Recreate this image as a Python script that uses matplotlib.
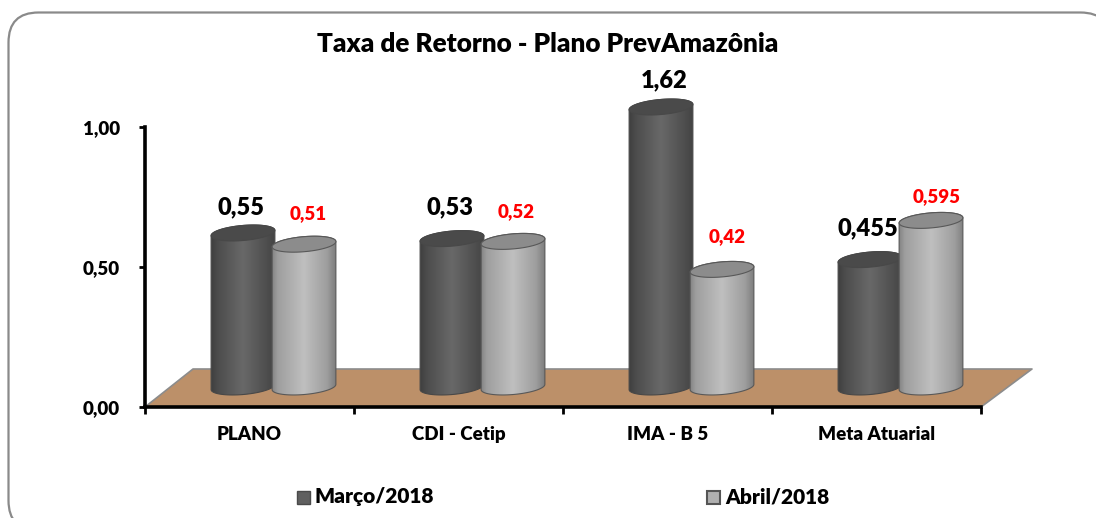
#!/usr/bin/env python3
# -*- coding: utf-8 -*-

import numpy as np
import matplotlib
matplotlib.use("Agg")
import matplotlib.pyplot as plt
from matplotlib.patches import FancyBboxPatch, Polygon, Rectangle

plt.rcParams['font.family'] = ['Lato', 'DejaVu Sans']

title = "Taxa de Retorno - Plano PrevAmazônia"
categories = ["PLANO", "CDI - Cetip", "IMA - B 5", "Meta Atuarial"]
series_names = ["Março/2018", "Abril/2018"]
marco = [0.55, 0.53, 1.62, 0.455]
abril = [0.51, 0.52, 0.42, 0.595]
marco_labels = ["0,55", "0,53", "1,62", "0,455"]
abril_labels = ["0,51", "0,52", "0,42", "0,595"]
y_ticks = [0.0, 0.5, 1.0]
y_tick_labels = ["0,00", "0,50", "1,00"]

W, H = 1096, 518
AX_L, AX_R, AX_T, AX_B = 145, 981, 127, 407
Y_MAX = 1.0
BOLD = 'heavy'

fig = plt.figure(figsize=(W / 100, H / 100), dpi=100)

# background layer in pixels: frame and legend
bg = fig.add_axes([0, 0, 1, 1])
bg.set_xlim(0, W)
bg.set_ylim(H, 0)
bg.axis('off')
bg.add_patch(FancyBboxPatch((8.5, 12.5), 1102, 518, boxstyle="round,pad=0,rounding_size=30",
                            fc='white', ec='#8a8a8a', lw=1.6))
bg.text(548, 44, title, ha='center', va='center', fontsize=18.8, fontweight=BOLD, color='black')

bg.add_patch(Rectangle((297, 490.5), 13, 13, fc='#606060', ec='#4a4a4a', lw=1))
bg.text(315, 497, series_names[0], ha='left', va='center', fontsize=15, fontweight=BOLD)
bg.add_patch(Rectangle((707, 490.5), 13, 13, fc='#b0b0b0', ec='#555555', lw=1.5))
bg.text(725, 497, series_names[1], ha='left', va='center', fontsize=15, fontweight=BOLD)

ax = fig.add_axes([AX_L / W, 1 - AX_B / H, (AX_R - AX_L) / W, (AX_B - AX_T) / H])
ax.patch.set_alpha(0)
ax.set_xlim(-0.5, 3.5)
ax.set_ylim(0, Y_MAX)

# pixels per data unit
sx = (AX_R - AX_L) / 4
sy = (AX_B - AX_T) / Y_MAX

# floor of the fake 3d box
floor = [(-0.5, 0), (-0.5 + 48 / sx, 38 / sy), (3.5 + 51 / sx, 38 / sy), (3.5, 0)]
ax.add_patch(Polygon(floor, closed=True, fc='#BC9069', ec='none', clip_on=False, zorder=1))
ax.plot([floor[0][0], floor[1][0], floor[2][0], floor[3][0]],
        [floor[0][1], floor[1][1], floor[2][1], floor[3][1]],
        color='#8c8c8c', lw=1.2, clip_on=False, zorder=1.5)


def ellipse_pts(cx, cy, t, a=32.0, b=7.5, tilt=5.0):
    # tilted ellipse given in pixels, returned in data units
    phi = np.radians(tilt)
    px = a * np.cos(t) * np.cos(phi) - b * np.sin(t) * np.sin(phi)
    py = a * np.cos(t) * np.sin(phi) + b * np.sin(t) * np.cos(phi)
    return cx + px / sx, cy + py / sy


def cylinder(ax, cx, value, base, stops, top_color, edge_color, z):
    # values above the axis maximum get cut off, like the 1,62 bar
    y_top = min(value, Y_MAX) + base
    y_bot = base

    t_low = np.linspace(np.pi, 2 * np.pi, 40)
    t_up = np.linspace(0, np.pi, 40)
    xb, yb = ellipse_pts(cx, y_bot, t_low)
    xt, yt = ellipse_pts(cx, y_top, t_up)
    outline = np.column_stack([np.r_[xb, xt], np.r_[yb, yt]])
    body = Polygon(outline, closed=True, fc='none', ec=edge_color, lw=0.8, clip_on=False, zorder=z + 0.2)
    ax.add_patch(body)

    pos = np.linspace(0, 1, 128)
    shade = np.interp(pos, stops[0], stops[1])
    grad = np.dstack([shade, shade, shade])
    half = 33 / sx
    img = ax.imshow(grad, extent=(cx - half, cx + half, y_bot - 12 / sy, y_top + 12 / sy),
                    aspect='auto', interpolation='bilinear', zorder=z)
    img.set_clip_path(body)
    img.set_clip_box(fig.bbox)

    t_all = np.linspace(0, 2 * np.pi, 80)
    xe, ye = ellipse_pts(cx, y_top, t_all)
    ax.add_patch(Polygon(np.column_stack([xe, ye]), closed=True, fc=top_color, ec=edge_color,
                         lw=0.8, clip_on=False, zorder=z + 0.3))
    return y_top


dark_stops = ([0, 0.12, 0.5, 0.88, 1], [0.24, 0.30, 0.41, 0.30, 0.26])
light_stops = ([0, 0.1, 0.5, 0.85, 1], [0.50, 0.62, 0.75, 0.62, 0.48])

base_y = 20 / sy
shift = 24 / sx
off_dark = -30.5 / sx
off_light = 30.5 / sx

# label nudges in pixels (x, y up)
nudge_dark = [(-2, 26), (-2, 31), (3, 27), (-2, 31)]
nudge_light = [(4, 31), (3, 30), (5, 33), (6, 24)]

for i in range(len(categories)):
    xd = i + shift + off_dark
    xl = i + shift + off_light
    top_d = cylinder(ax, xd, marco[i], base_y, dark_stops, '#4a4a4a', '#484848', 3 + i)
    top_l = cylinder(ax, xl, abril[i], base_y, light_stops, '#8c8c8c', '#585858', 3.5 + i)
    ndx, ndy = nudge_dark[i]
    nlx, nly = nudge_light[i]
    ax.annotate(marco_labels[i], (xd, top_d), xytext=(ndx * 0.72, ndy * 0.72), textcoords='offset points',
                ha='center', va='center', fontsize=17, fontweight=BOLD, color='black',
                annotation_clip=False, zorder=20)
    ax.annotate(abril_labels[i], (xl, top_l), xytext=(nlx * 0.72, nly * 0.72), textcoords='offset points',
                ha='center', va='center', fontsize=13.5, fontweight=BOLD, color='#ff0000',
                annotation_clip=False, zorder=20)

ax.set_xlim(-0.5, 3.5)
ax.set_ylim(0, Y_MAX)

for s in ['top', 'right']:
    ax.spines[s].set_visible(False)
for s in ['left', 'bottom']:
    ax.spines[s].set_linewidth(2.6)
    ax.spines[s].set_zorder(30)

ax.set_yticks(y_ticks)
ax.set_yticklabels(y_tick_labels, fontsize=13.5, fontweight=BOLD)
ax.tick_params(axis='y', length=4, width=2, pad=14)
ax.set_xticks(np.arange(-0.5, 4, 1))
ax.set_xticklabels([])
ax.tick_params(axis='x', which='major', length=5, width=2)
ax.set_xticks(np.arange(len(categories)), minor=True)
ax.set_xticklabels(categories, minor=True, fontsize=13.5, fontweight=BOLD)
ax.tick_params(axis='x', which='minor', length=0, pad=14)

fig.savefig("out.png", dpi=100)
